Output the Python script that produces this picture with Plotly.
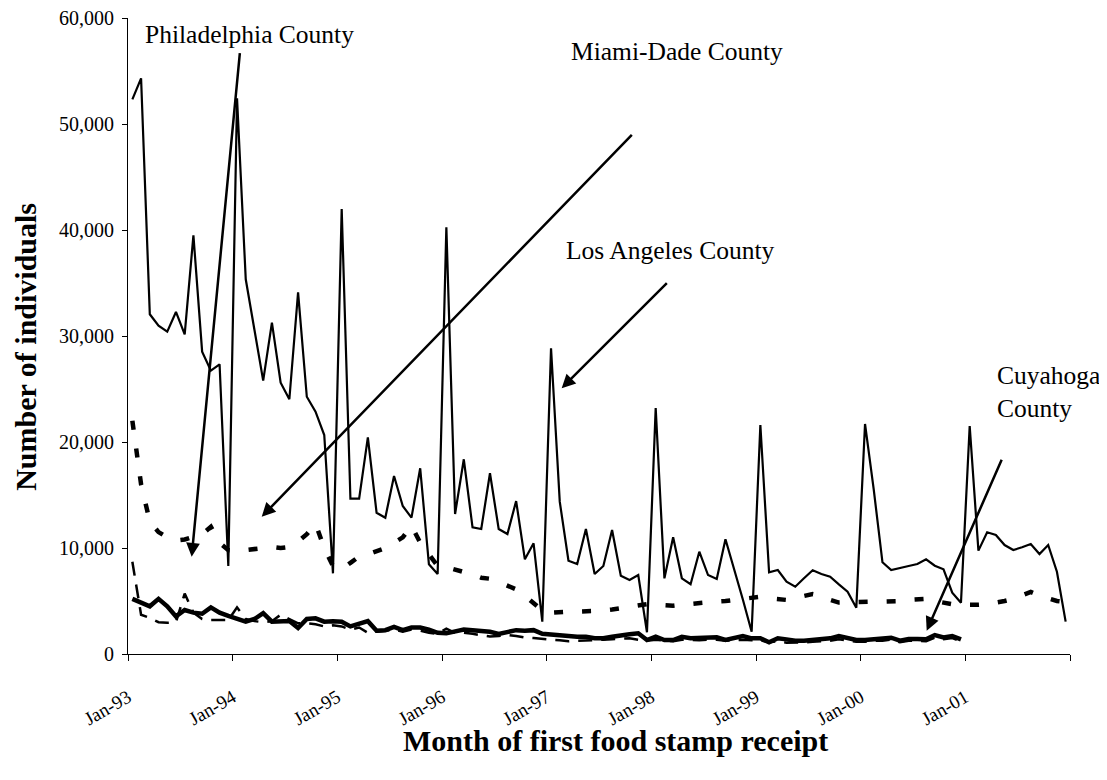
import plotly.graph_objects as go

# ---- data -------------------------------------------------------------
years = ["93", "94", "95", "96", "97", "98", "99", "00", "01"]
month_names = ["Jan", "Feb", "Mar", "Apr", "May", "Jun",
               "Jul", "Aug", "Sep", "Oct", "Nov", "Dec"]
months = [f"{m}-{y}" for y in years for m in month_names]   # Jan-93 .. Dec-01
tick_labels = ["Jan-93", "Jan-94", "Jan-95", "Jan-96", "Jan-97",
               "Jan-98", "Jan-99", "Jan-00", "Jan-01", ""]

los_angeles = [52330, 54310, 32050, 30970, 30410, 32270, 30160, 39500, 28520, 26730,
               27330, 8300, 52420, 35350, 30570, 25790, 31260, 25600, 24030, 34120,
               24270, 22860, 20660, 7610, 41980, 14650, 14650, 20440, 13330, 12860,
               16790, 13960, 12860, 17520, 8460, 7550, 40250, 13210, 18370, 11950,
               11790, 17050, 11790, 11320, 14430, 8930, 10440, 3050, 28840, 14370,
               8800, 8490, 11800, 7550, 8300, 11700, 7390, 6980, 7450, 2050,
               23200, 7140, 11010, 7140, 6580, 9650, 7450, 7080, 10820, 8020,
               5120, 2100, 21600, 7710, 7920, 6820, 6350, 7140, 7900, 7550,
               7300, 6570, 5880, 4370, 21700, 15500, 8650, 7920, 8140, 8300,
               8490, 8930, 8330, 7990, 5780, 4840, 21510, 9750, 11480, 11230,
               10280, 9810, 10070, 10380, 9430, 10280, 7760, 3050]

philadelphia = [22000, 16000, 12500, 11500, 11000, 10700, 10800, 11100, 11300, 12000,
                10500, 9800, 9700, 9800, 9900, 10000, 10100, 10000, 10100, 10600,
                11300, 12300, 10000, 8300, 8000, 8600, 9200, 9400, 9700, 10000,
                10500, 11000, 12100, 10500, 9400, 8300, 8200, 8000, 7800, 7500,
                7200, 7100, 6800, 6500, 6100, 5500, 4800, 4100, 3900, 4000,
                4000, 4000, 4000, 4050, 4100, 4200, 4350, 4500, 4600, 4700,
                4650, 4600, 4550, 4650, 4750, 4850, 4900, 4950, 5000, 5100,
                5200, 5300, 5400, 5250, 5150, 5100, 5300, 5500, 5650, 5500,
                5100, 4850, 4900, 4950, 5000, 4950, 4950, 4950, 5000, 5100,
                5150, 5200, 5000, 4800, 4700, 4650, 4600, 4650, 4700, 4800,
                5000, 5200, 5500, 5850, 5500, 5200, 5000, 4900]

miami_dade = [8700, 3700, 3400, 3000, 2950, 3000, 5700, 3900, 3300, 3200,
              3200, 3200, 4400, 3300, 3100, 3000, 3100, 3700, 3300, 2900,
              2900, 2800, 2600, 2700, 2600, 2300, 2500, 2000, 2100, 2200,
              2300, 2100, 2300, 2200, 2000, 1900, 2400, 2000, 2000, 1900,
              1800, 1650, 1700, 1800, 1700, 1550, 1500, 1400, 1350, 1300,
              1200, 1250, 1260, 1300, 1350, 1400, 1450, 1480, 1350, 1250,
              1350, 1250, 1200, 1350, 1300, 1300, 1350, 1350, 1250, 1300,
              1350, 1300, 1300, 1100, 1200, 1070, 1060, 1100, 1150, 1200,
              1250, 1400, 1250, 1150, 1150, 1250, 1250, 1350, 1100, 1250,
              1250, 1200, 1550, 1400, 1500, 1200]

cuyahoga = [5200, 4850, 4500, 5200, 4500, 3550, 4150, 3900, 3800, 4400,
            3900, 3600, 3350, 3050, 3300, 3850, 3050, 3050, 3110, 2450,
            3300, 3370, 3050, 3100, 3050, 2600, 2800, 3100, 2200, 2250,
            2550, 2250, 2500, 2500, 2300, 2000, 1950, 2150, 2300, 2250,
            2200, 2100, 1900, 2050, 2250, 2200, 2250, 1900, 1800, 1700,
            1700, 1630, 1630, 1480, 1480, 1630, 1700, 1860, 1950, 1320,
            1630, 1320, 1320, 1630, 1480, 1480, 1570, 1570, 1320, 1480,
            1700, 1480, 1480, 1100, 1480, 1380, 1260, 1260, 1320, 1420,
            1480, 1700, 1480, 1320, 1320, 1420, 1420, 1540, 1260, 1420,
            1420, 1380, 1790, 1570, 1700, 1380]

# ---- figure -----------------------------------------------------------
SERIF = "Times New Roman, Liberation Serif, serif"
idx = list(range(len(months)))

fig = go.Figure()
fig.add_trace(go.Scatter(x=idx[:len(miami_dade)], y=miami_dade, mode="lines",
                         name="Miami-Dade County", text=months[:len(miami_dade)],
                         line=dict(color="black", width=2.5, dash="14px,9px")))
fig.add_trace(go.Scatter(x=idx, y=philadelphia, mode="lines",
                         name="Philadelphia County", text=months,
                         line=dict(color="black", width=4.5, dash="9px,19px")))
fig.add_trace(go.Scatter(x=idx, y=los_angeles, mode="lines",
                         name="Los Angeles County", text=months,
                         line=dict(color="black", width=2.2)))
fig.add_trace(go.Scatter(x=idx[:len(cuyahoga)], y=cuyahoga, mode="lines",
                         name="Cuyahoga County", text=months[:len(cuyahoga)],
                         line=dict(color="black", width=4.5)))

labels = [
    dict(text="Philadelphia County", x=1.22, y=58430),
    dict(text="Miami-Dade County", x=50.06, y=56800),
    dict(text="Los Angeles County", x=49.49, y=38020),
    dict(text="Cuyahoga<br>County", x=98.9, y=24700),
]
for lab in labels:
    fig.add_annotation(text=lab["text"], x=lab["x"], y=lab["y"], xref="x", yref="y",
                       xanchor="left", yanchor="middle", showarrow=False, align="left",
                       font=dict(family=SERIF, size=25.5, color="black"))

arrows = [  # (tail x, tail y, tip x, tip y)
    (12.34, 56820, 6.80, 9180),
    (57.43, 49120, 14.83, 12950),
    (61.45, 35120, 49.22, 25070),
    (99.74, 18460, 91.07, 2200),
]
for ax_, ay_, x_, y_ in arrows:
    fig.add_annotation(text="", x=x_, y=y_, ax=ax_, ay=ay_, xref="x", yref="y",
                       axref="x", ayref="y", showarrow=True, arrowhead=2,
                       arrowsize=1.1, arrowwidth=2.5, arrowcolor="black", standoff=0)

# axis titles placed as annotations for exact positioning
fig.add_annotation(text="<b>Month of first food stamp receipt</b>", xref="paper", yref="paper",
                   x=0.517, y=0, yshift=-86, xanchor="center", yanchor="middle",
                   showarrow=False, font=dict(family=SERIF, size=30, color="black"))
fig.add_annotation(text="<b>Number of individuals</b>", xref="paper", yref="paper",
                   x=0, y=0.483, xshift=-102, xanchor="center", yanchor="middle",
                   textangle=-90, showarrow=False,
                   font=dict(family=SERIF, size=30, color="black"))

fig.update_xaxes(range=[-0.5, 107.5], tickvals=[-0.5 + 12 * k for k in range(10)],
                 ticktext=tick_labels, tickangle=-30, ticks="outside", ticklen=6,
                 tickcolor="black", showline=True, linecolor="black", linewidth=1,
                 showgrid=False, zeroline=False, ticklabelstandoff=18,
                 tickfont=dict(family=SERIF, size=19, color="black"))
fig.update_yaxes(range=[0, 60000], dtick=10000, tickformat=",d", ticks="outside",
                 ticklen=5, tickcolor="black", showline=True, linecolor="black",
                 linewidth=1, showgrid=False, zeroline=False, ticklabelstandoff=4,
                 ticklabeloverflow="allow",
                 tickfont=dict(family=SERIF, size=20, color="black"))

fig.update_layout(width=1099, height=772, plot_bgcolor="white", paper_bgcolor="white",
                  showlegend=False, margin=dict(l=120, r=37, t=10, b=126, autoexpand=False))

fig.write_html("out.html")
